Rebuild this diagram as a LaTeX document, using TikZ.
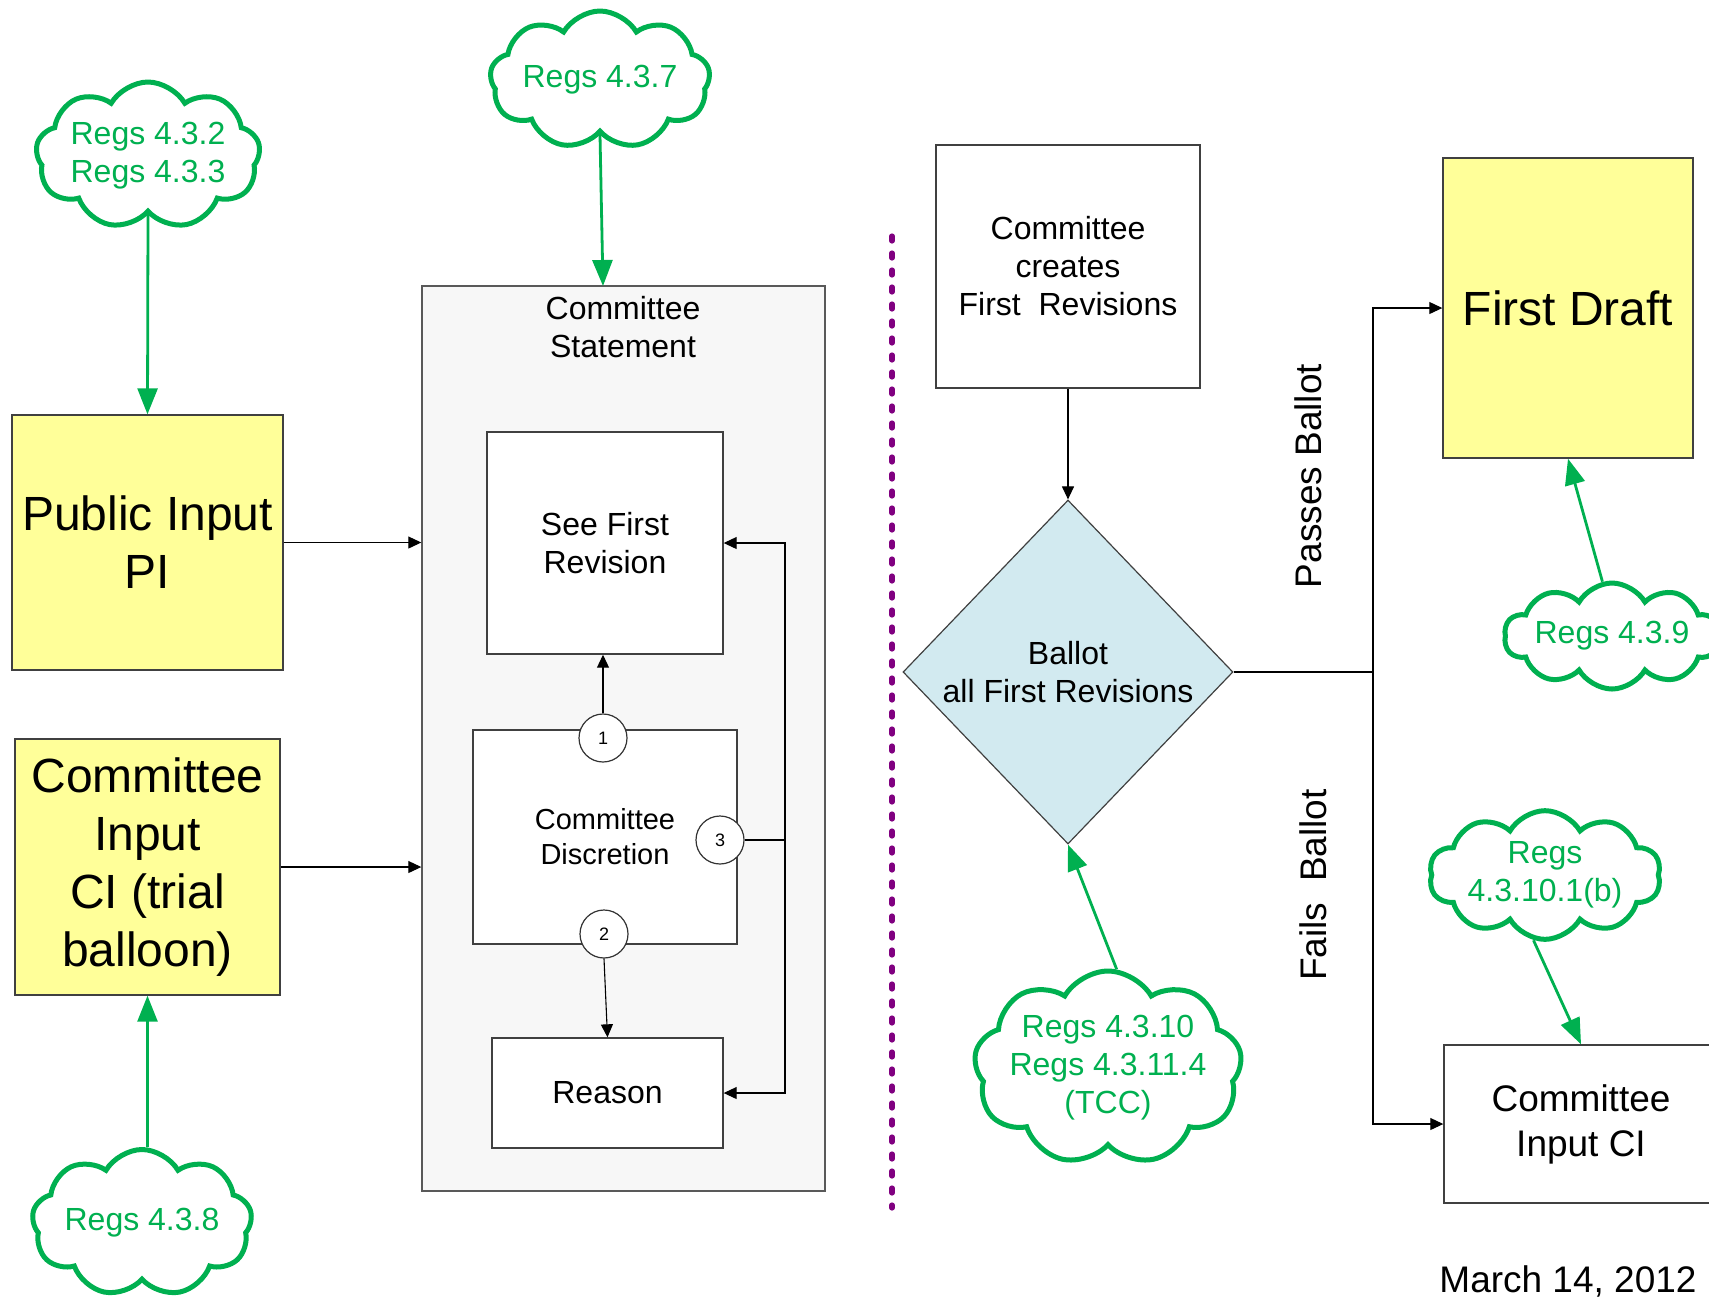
\documentclass[tikz,border=0pt]{standalone}
\usepackage{fontspec}
\setmainfont{Liberation Sans}
\usetikzlibrary{shapes.geometric,shapes.symbols,arrows.meta,calc}
\definecolor{rgreen}{RGB}{0,176,80}
\definecolor{ryellow}{RGB}{255,255,153}
\definecolor{rblue}{RGB}{210,234,240}
\definecolor{rgray}{RGB}{247,247,247}
\definecolor{rpurple}{RGB}{128,0,128}
\tikzset{
  box/.style={draw=black!75, line width=0.7pt, inner sep=0pt, align=center, rectangle},
  big/.style={font=\fontsize{24}{29}\selectfont},
  mid/.style={font=\fontsize{16}{19}\selectfont},
  small/.style={font=\fontsize{14.5}{17.5}\selectfont},
  num/.style={draw=black!80, line width=0.6pt, circle, fill=white, minimum size=24pt, inner sep=0pt, font=\fontsize{9}{10}\selectfont},
  regcloud/.style={cloud, cloud puffs=9, cloud puff arc=120, cloud ignores aspect, draw=rgreen, line width=2.5pt, fill=white, text=rgreen, inner sep=0pt, align=center, font=\fontsize{16}{19}\selectfont},
  blk/.style={draw=black, line width=0.55pt, -{Triangle[length=6.5pt,width=6pt]}},
  grn/.style={draw=rgreen, line width=1.4pt, -{Triangle[length=13pt,width=10pt]}},
}
\begin{document}
\begin{tikzpicture}[x=0.5pt,y=-0.5pt]
\useasboundingbox (0,0) rectangle (1709,1298);
% container
\node[box, fill=rgray, draw=black!65, minimum width=201.5pt, minimum height=452.5pt] (cs) at (623.5,738.5) {};
\node[mid, align=center] (cst) at (623,327) {Committee\\Statement};
% left boxes
\node[box, big, fill=ryellow, minimum width=135.5pt, minimum height=127.5pt] (pi) at (147.5,542.5) {Public Input\\PI};
\node[box, big, fill=ryellow, minimum width=132.5pt, minimum height=128pt] (ci) at (147.5,867) {Committee\\Input\\CI (trial\\balloon)};
% inner boxes
\node[box, mid, fill=white, minimum width=118pt, minimum height=111pt] (sfr) at (605,543) {See First\\Revision};
\node[box, small, fill=white, minimum width=132pt, minimum height=107pt] (cd) at (605,837) {Committee\\Discretion};
\node[box, mid, fill=white, minimum width=115.5pt, minimum height=55pt] (reason) at (607.5,1093) {Reason};
\node[num] (n1) at (603,738) {1};
\node[num] (n3) at (720,840) {3};
\node[num] (n2) at (604,934) {2};
% clouds left
\node[regcloud, minimum width=109pt, minimum height=73.5pt] (cl1) at (148,155.5) {Regs 4.3.2\\Regs 4.3.3};
\node[regcloud, minimum width=110pt, minimum height=69pt] (cl2) at (600,80) {Regs 4.3.7};
\node[regcloud, minimum width=110pt, minimum height=73.5pt] (cl3) at (142,1223) {Regs 4.3.8};
% right side
\node[box, mid, fill=white, minimum width=132pt, minimum height=121.5pt] (ccf) at (1068,266.5) {Committee\\creates\\First\ \ Revisions};
\node[diamond, draw=black!75, line width=0.6pt, fill=rblue, minimum width=165pt, minimum height=172pt, inner sep=0pt, align=center, mid] (dia) at (1068,672) {Ballot\\all First Revisions};
\node[box, big, fill=ryellow, minimum width=125pt, minimum height=150pt] (fd) at (1568,308) {First Draft};
\node[box, fill=white, minimum width=137pt, minimum height=79pt, font=\fontsize{18.5}{22.5}\selectfont] (ci2) at (1581,1124) {Committee\\Input CI};
\node[regcloud, cloud puffs=9, minimum width=134pt, minimum height=97pt] (cl4) at (1108,1068) {};
\node[text=rgreen, align=center, font=\fontsize{16}{19}\selectfont] (cl4t) at (cl4.center) {Regs 4.3.10\\Regs 4.3.11.4\\(TCC)};
\node[regcloud, cloud puffs=10, minimum width=104pt, minimum height=53pt] (cl5) at (1612,636) {Regs 4.3.9};
\node[regcloud, cloud puffs=10, minimum width=116pt, minimum height=60pt] (cl6) at (1545,875) {Regs\\4.3.10.1(b)};
% labels
\node[rotate=90, font=\fontsize{18.5}{22}\selectfont] (pb) at (1308,476) {Passes Ballot};
\node[rotate=90, font=\fontsize{18.5}{22}\selectfont] (fb) at (1313,885) {Fails\ \ Ballot};
\node[font=\fontsize{18.5}{22}\selectfont] (date) at (1568,1281) {March 14, 2012};
% dotted separator
\draw[rpurple, line width=2.6pt, line cap=round, dash pattern=on 2.5pt off 6pt] (892,236) -- (892,1208);
% connectors left
\draw[blk] (pi.east) -- (pi.east -| cs.west);
\draw[blk] (ci.east) -- (ci.east -| cs.west);
\draw[blk] (n1.north) -- (n1.north |- sfr.south);
\draw[blk] (n2.south) -- (reason.north);
\coordinate (fbk) at (785,840);
\draw[line width=0.55pt] (n3.east) -- (fbk);
\draw[blk] (fbk) |- (sfr.east);
\draw[blk] (fbk) |- (reason.east);
% green arrows left
\draw[grn] (cl1.south) -- (pi.north);
\coordinate (csin) at (603,286);
\draw[grn] (cl2.south) -- (csin);
\draw[grn] (ci.south |- cl3.north) -- (ci.south);
% right connectors
\draw[blk] (ccf.south) -- (dia.north);
\coordinate (jn) at (1373,672);
\draw[line width=0.55pt] (dia.east) -- (jn);
\draw[blk] (jn) |- (fd.west);
\draw[blk] (jn) |- (ci2.west);
\draw[grn] (cl4.85) -- (dia.south);
\draw[grn] (cl5.100) -- (fd.south);
\draw[grn] (cl6.-100) -- (ci2.north);
\end{tikzpicture}
\end{document}
